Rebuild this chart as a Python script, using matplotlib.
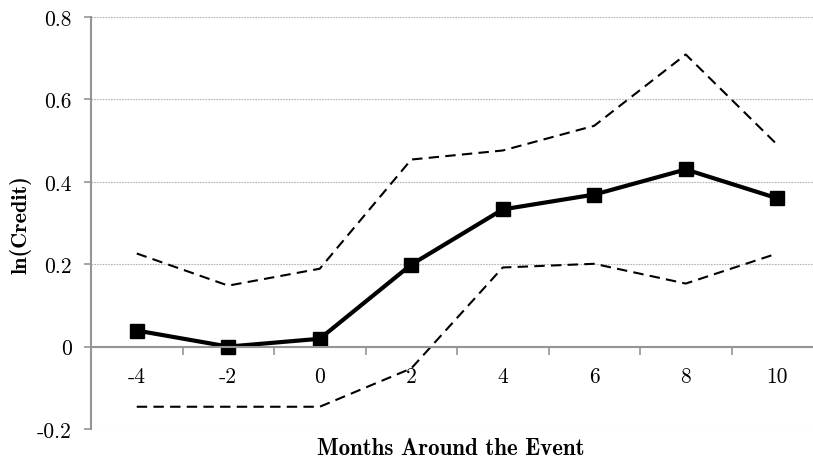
import numpy as np
import matplotlib
matplotlib.use('agg')
import matplotlib.pyplot as plt

months = [-4, -2, 0, 2, 4, 6, 8, 10]
credit = [0.039, 0.0, 0.019, 0.199, 0.333, 0.369, 0.430, 0.360]
upper = [0.226, 0.148, 0.189, 0.454, 0.476, 0.536, 0.709, 0.490]
lower = [-0.146, -0.146, -0.146, -0.053, 0.192, 0.201, 0.153, 0.226]
yticks = [-0.2, 0, 0.2, 0.4, 0.6, 0.8]
ytick_labels = ['-0.2', '0', '0.2', '0.4', '0.6', '0.8']

grey = '#959595'

fig = plt.figure(figsize=(8.13, 4.6), dpi=100)
ax = fig.add_axes([91 / 813, 30 / 460, 732 / 813, 412 / 460])

x = np.arange(len(months))
ax.plot(x, upper, color='black', lw=1.5, dashes=(5, 3))
ax.plot(x, lower, color='black', lw=1.5, dashes=(5, 3))
ax.plot(x, credit, color='black', lw=3, marker='s', markersize=9.5)

ax.set_xlim(-0.5, len(months) - 0.5)
ax.set_ylim(-0.2, 0.8)

# horizontal gridlines
ax.set_yticks(yticks)
ax.set_yticklabels(ytick_labels, fontfamily='cmr10', fontsize=15.5)
ax.yaxis.grid(True, color='#b4b4b4', ls=(0, (1.5, 1)), lw=0.8)
ax.set_axisbelow(True)

# category axis sitting at y = 0, ticks between categories
ax.spines['bottom'].set_position(('data', 0))
ax.set_xticks(x)
ax.set_xticklabels([str(m) for m in months], fontfamily='cmr10', fontsize=15.5)
ax.set_xticks(np.arange(len(months) + 1) - 0.5, minor=True)
ax.tick_params(axis='x', which='major', length=0, pad=14)
ax.tick_params(axis='x', which='minor', length=6, color=grey, width=1.2)
ax.tick_params(axis='y', length=5, color=grey, width=1.2, pad=9)

for s in ['top', 'right']:
    ax.spines[s].set_visible(False)
for s in ['left', 'bottom']:
    ax.spines[s].set_color(grey)
    ax.spines[s].set_linewidth(1.5)

fig.text(21 / 813, 1 - 225 / 460, 'ln(Credit)', rotation=90, ha='center', va='center',
         fontfamily='cmb10', fontsize=16)
fig.text(451 / 813, 1 - 449 / 460, 'Months Around the Event', ha='center', va='center',
         fontfamily='cmb10', fontsize=16.5)

plt.savefig('out.png', dpi=100)
